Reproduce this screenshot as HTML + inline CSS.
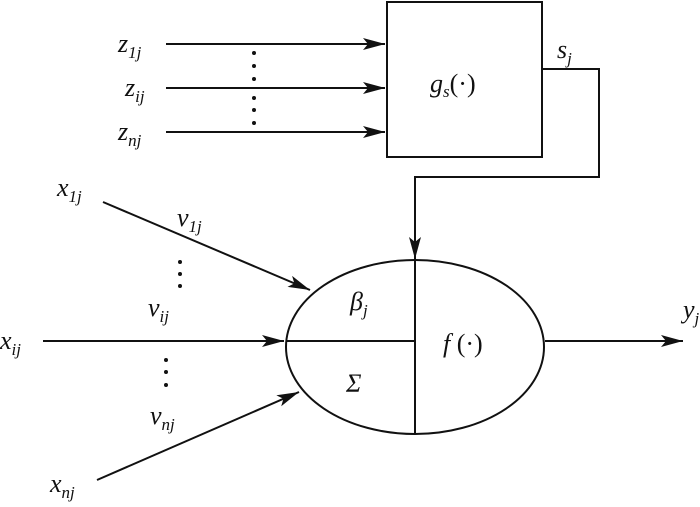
<!DOCTYPE html>
<html><head><style>
body{margin:0;background:#fff;}
svg text{font-family:"Liberation Serif",serif;font-style:italic;font-size:26px;fill:#111;}
svg text tspan.s{font-size:17px;}
</style></head><body>
<svg width="700" height="502" viewBox="0 0 700 502" xmlns="http://www.w3.org/2000/svg">
<defs><marker id="a" markerWidth="12" markerHeight="8" refX="12" refY="4" orient="auto" markerUnits="userSpaceOnUse"><path d="M0,0 L12,4 L0,8 L3,4 Z" fill="#111"/></marker>
<marker id="b" markerWidth="22" markerHeight="12" refX="22" refY="6" orient="auto" markerUnits="userSpaceOnUse"><path d="M0,0 L22,6 L0,12 L5,6 Z" fill="#111"/></marker></defs>
<g stroke="#111" stroke-width="2" fill="none">
<rect x="387" y="2" width="155" height="155"/>
<line x1="166" y1="44" x2="385" y2="44" marker-end="url(#b)"/>
<line x1="166" y1="88" x2="385" y2="88" marker-end="url(#b)"/>
<line x1="166" y1="132" x2="385" y2="132" marker-end="url(#b)"/>
<polyline points="542,69 599,69 599,177 415,177 415,259" marker-end="url(#b)"/>
<ellipse cx="415" cy="347" rx="129" ry="87"/>
<line x1="415" y1="260" x2="415" y2="434"/>
<line x1="286" y1="341" x2="415" y2="341"/>
<line x1="43" y1="341" x2="284" y2="341" marker-end="url(#b)"/>
<line x1="545" y1="341" x2="683" y2="341" marker-end="url(#b)"/>
<line x1="103" y1="202" x2="310" y2="290" marker-end="url(#b)"/>
<line x1="97" y1="480" x2="299" y2="392" marker-end="url(#b)"/>
</g>
<g fill="#111">
<circle cx="254" cy="53" r="2"/><circle cx="254" cy="66" r="2"/><circle cx="254" cy="79" r="2"/>
<circle cx="254" cy="98" r="2"/><circle cx="254" cy="110" r="2"/><circle cx="254" cy="123" r="2"/>
<circle cx="180" cy="262" r="2"/><circle cx="180" cy="274" r="2"/><circle cx="180" cy="286" r="2"/>
<circle cx="166" cy="360" r="2"/><circle cx="166" cy="372" r="2"/><circle cx="166" cy="385" r="2"/>
</g>
<text x="118" y="52">z<tspan class="s" dy="6">1j</tspan></text>
<text x="125" y="96">z<tspan class="s" dy="6">ij</tspan></text>
<text x="118" y="140">z<tspan class="s" dy="6">nj</tspan></text>
<text x="430" y="92">g<tspan class="s" dy="5">s</tspan><tspan dy="-5" font-style="normal">(·)</tspan></text>
<text x="557" y="58">s<tspan class="s" dy="6">j</tspan></text>
<text x="57" y="196">x<tspan class="s" dy="6">1j</tspan></text>
<text x="177" y="226">v<tspan class="s" dy="6">1j</tspan></text>
<text x="148" y="316">v<tspan class="s" dy="6">ij</tspan></text>
<text x="0" y="349">x<tspan class="s" dy="6">ij</tspan></text>
<text x="150" y="424">v<tspan class="s" dy="6">nj</tspan></text>
<text x="50" y="492">x<tspan class="s" dy="6">nj</tspan></text>
<text x="350" y="310">β<tspan class="s" dy="6">j</tspan></text>
<text x="346" y="392" font-style="normal">Σ</text>
<text x="443" y="352">f<tspan font-style="normal"> (·)</tspan></text>
<text x="683" y="318">y<tspan class="s" dy="6">j</tspan></text>
</svg>
</body></html>
